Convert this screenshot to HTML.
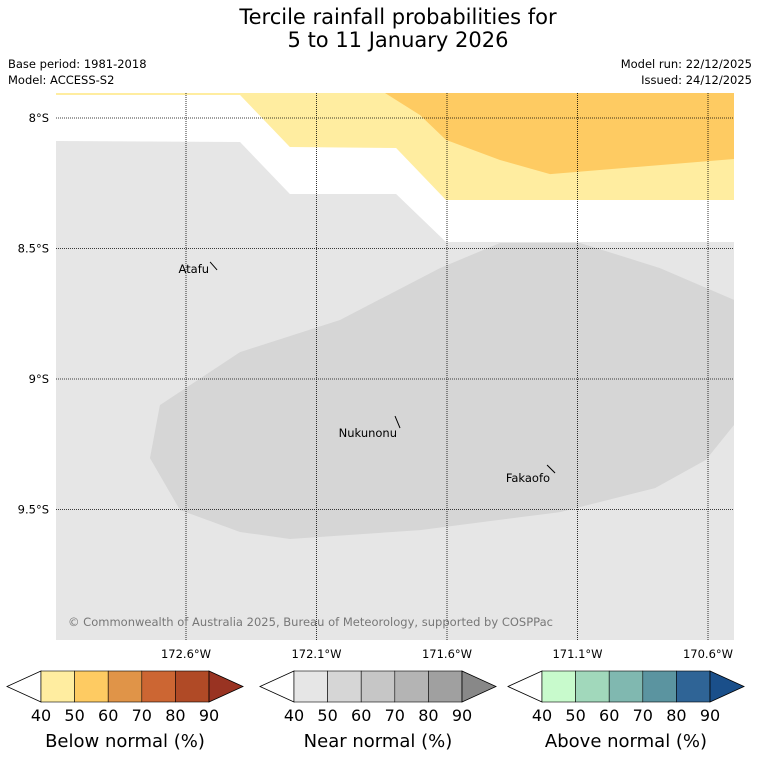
<!DOCTYPE html>
<html><head><meta charset="utf-8"><style>
body{margin:0;background:#fff;font-family:"DejaVu Sans","Liberation Sans",sans-serif}
svg{display:block}
</style></head><body>
<svg width="758" height="781" xmlns="http://www.w3.org/2000/svg" font-family="DejaVu Sans, Liberation Sans, sans-serif">
<text x="398" y="24" font-size="21" text-anchor="middle">Tercile rainfall probabilities for</text>
<text x="398" y="47" font-size="21" text-anchor="middle">5 to 11 January 2026</text>
<text x="8" y="68" font-size="11.5">Base period: 1981-2018</text>
<text x="8" y="84" font-size="11.5">Model: ACCESS-S2</text>
<text x="752" y="68" font-size="11.5" text-anchor="end">Model run: 22/12/2025</text>
<text x="752" y="84" font-size="11.5" text-anchor="end">Issued: 24/12/2025</text>
<g id="map"></g>
<g id="bars"></g>
</svg>
<script>
const lonTicks=[172.6,172.1,171.6,171.1,170.6];
const lonLabels=["172.6°W","172.1°W","171.6°W","171.1°W","170.6°W"];
const latTicks=[8,8.5,9,9.5];
const latLabels=["8°S","8.5°S","9°S","9.5°S"];
const grayLon=[173.098,172.393,172.202,171.795,171.604,170.5,170.5,173.098];
const grayLat=[8.088,8.092,8.291,8.291,8.475,8.475,10.0,10.0];
const yellowLon=[173.098,172.393,172.202,171.795,171.604,170.5,170.5,173.098];
const yellowLat=[7.912,7.912,8.111,8.115,8.314,8.314,7.904,7.904];
const orangeLon=[171.838,170.5,170.5,171.205,171.397,171.604,171.703];
const orangeLat=[7.904,7.904,8.157,8.215,8.161,8.084,7.989];
const nearLon=[172.700,172.393,172.010,171.627,171.397,171.090,170.784,170.5,170.5,170.608,170.803,171.167,171.703,172.202,172.393,172.623,172.738];
const nearLat=[9.100,8.897,8.774,8.575,8.479,8.479,8.575,8.697,9.176,9.310,9.418,9.510,9.579,9.613,9.586,9.502,9.303];
const places=["Atafu","Nukunonu","Fakaofo"];
const placeLon=[172.481,171.780,171.186];
const placeLat=[8.582,9.188,9.360];
const cbLevels=[40,50,60,70,80,90];
const belowColors=["#ffeda0","#fecb62","#e09448","#cc6633","#b04a26","#993322"];
const nearColors=["#e6e6e6","#d6d6d6","#c6c6c6","#b4b4b4","#a0a0a0","#888888"];
const aboveColors=["#c8facc","#a1d8bb","#80b8b0","#5b94a0","#2f6496","#1a4f8a"];
const cbTitles=["Below normal (%)","Near normal (%)","Above normal (%)"];
const NS="http://www.w3.org/2000/svg";
const X0=56,X1=734,Y0=93,Y1=640;
const xs=lon=>186+(172.6-lon)*261;
const ys=lat=>118+(lat-8)*261;
const mkDx=[-7,-5,-8],mkDy=[-8,-12,-8],txDx=[-8,-3,-5],txDy=[3,9,9];
function el(t,a,p){const e=document.createElementNS(NS,t);for(const k in a)e.setAttribute(k,a[k]);p.appendChild(e);return e;}
const map=document.getElementById('map');
const cp=el('clipPath',{id:'cp'},map);el('rect',{x:X0,y:Y0,width:X1-X0,height:Y1-Y0},cp);
const g=el('g',{'clip-path':'url(#cp)'},map);
function poly(lo,la,fill,name){const p=el('polygon',{points:lo.map((v,i)=>xs(v)+','+ys(la[i])).join(' '),fill:fill},g);

}
poly(grayLon,grayLat,'#e6e6e6','near-normal-40-region');
poly(yellowLon,yellowLat,'#ffeda0','below-normal-40-region');
poly(orangeLon,orangeLat,'#fecb62','below-normal-50-region');
poly(nearLon,nearLat,'#d6d6d6','near-normal-50-region');
lonTicks.forEach((v,i)=>{const l=el('line',{x1:xs(v),x2:xs(v),y1:Y0,y2:Y1,stroke:'#000','stroke-width':0.8,'stroke-dasharray':'1,1'},map);


const t=el('text',{x:xs(v),y:658,'font-size':11.5,'text-anchor':'middle'},map);t.textContent=lonLabels[i];

});
latTicks.forEach((v,i)=>{const l=el('line',{x1:X0,x2:X1,y1:ys(v),y2:ys(v),stroke:'#000','stroke-width':0.8,'stroke-dasharray':'1,1'},map);


const t=el('text',{x:49,y:ys(v)+4,'font-size':11.5,'text-anchor':'end'},map);t.textContent=latLabels[i];

});
places.forEach((n,i)=>{const x=xs(placeLon[i]),y=ys(placeLat[i]);
const l=el('path',{d:`M${x+mkDx[i]} ${y+mkDy[i]} L${x} ${y}`,stroke:'#000','stroke-width':1,fill:'none'},map);


const t=el('text',{x:x+txDx[i],y:y+txDy[i],'font-size':11.5,'text-anchor':'end'},map);t.textContent=n;

});
const c=el('text',{x:68,y:626,'font-size':11.5,fill:'#777',textLength:485},map);c.textContent='© Commonwealth of Australia 2025, Bureau of Meteorology, supported by COSPPac';


const bars=document.getElementById('bars');
const cbX=[41,294,542],cw=168,by0=671,by1=702;
[belowColors,nearColors,aboveColors].forEach((cols,b)=>{const x0=cbX[b];const step=cw/(cbLevels.length-1);
const gb=el('g',{},bars);


el('polygon',{points:`${x0},${by0} ${x0-34},${(by0+by1)/2} ${x0},${by1}`,fill:'#fff',stroke:'#000','stroke-width':0.8},gb);
cols.slice(0,5).forEach((col,i)=>{el('rect',{x:x0+i*step,y:by0,width:step,height:by1-by0,fill:col,stroke:'#000','stroke-width':0.6},gb);});
el('polygon',{points:`${x0+cw},${by0} ${x0+cw+34},${(by0+by1)/2} ${x0+cw},${by1}`,fill:cols[5],stroke:'#000','stroke-width':0.8},gb);
cbLevels.forEach((v,i)=>{const t=el('text',{x:x0+i*step,y:721,'font-size':16,'text-anchor':'middle'},gb);t.textContent=v;

});
const t=el('text',{x:x0+cw/2,y:747,'font-size':18,'text-anchor':'middle'},gb);t.textContent=cbTitles[b];

});
</script>
</body></html>
